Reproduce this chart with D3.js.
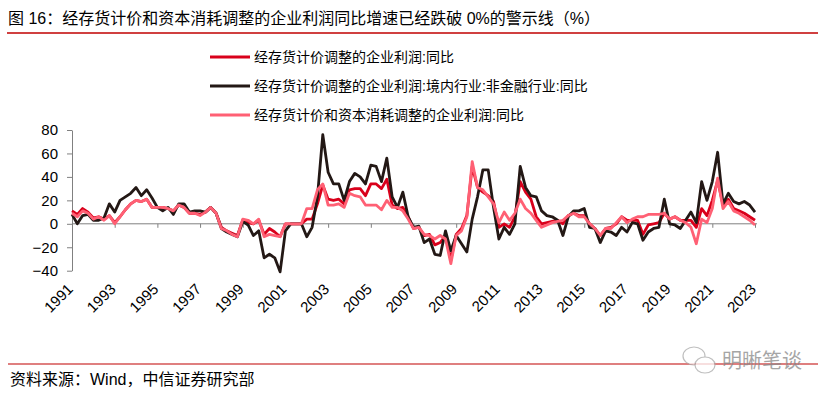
<!DOCTYPE html>
<html>
<head>
<meta charset="utf-8">
<script src="https://cdn.jsdelivr.net/npm/d3@7"></script>
<style>
  body { margin: 0; background: #fff; }
  svg { display: block; font-family: "Liberation Sans", Arial, "Noto Sans CJK SC", sans-serif; }
</style>
</head>
<body>
<div id="chart"></div>
<script>
var svgWidth = 826;
var svgHeight = 398;

// quarterly, 1991Q1 .. 2023Q1
var quarters = d3.range(129).map(function(i) {
  return (1991 + Math.floor(i / 4)) + "Q" + (i % 4 + 1);
});
var yearLabels = ["1991", "1993", "1995", "1997", "1999", "2001", "2003", "2005", "2007",
  "2009", "2011", "2013", "2015", "2017", "2019", "2021", "2023"];
var yTicks = [80, 60, 40, 20, 0, -20, -40];

var seriesNames = [
  "经存货计价调整的企业利润:同比",
  "经存货计价调整的企业利润:境内行业:非金融行业:同比",
  "经存货计价和资本消耗调整的企业利润:同比"
];

// 经存货计价调整的企业利润:同比
var profitIVA = [
  11, 8, 13, 10, 5, 6, 4, 7, 1, 6, 12, 17, 20, 19, 21, 14, 14, 14, 13, 11,
  16, 14, 9, 9, 8, 10, 14, 9, -3, -6, -8, -10, 3,
  1, 0, 3, -9, -4, -7, -11, 0, 0, 0, 0, 4, 4, 17, 33,
  21, 20, 21, 17, 29, 30, 30, 24, 34, 34, 30, 38, 16, 13, 14, 6, -4, -3, -10, -9,
  -18, -16, -10, -31, -9, -4, 7, 49, 31, 27, 24, 19, -3, 0, -3, 6, 36, 27, 21, 6,
  0, 1, 2, 3, 0, 7, 9, 7, 7, 0, -4, -10, -4,
  -3, 0, 6, 3, 3, 3, -9, -1, 0, 1, 9, 4, 6, 3, 3, 3, -3, 13, 7, 20,
  37, 16, 21, 13, 11, 9, 6, 3
];

// 经存货计价调整的企业利润:境内行业:非金融行业:同比
var profitNonFin = [
  8, 0, 7, 8, 3, 3, 5, 17, 10, 20, 23, 26, 31, 24, 29, 22, 14, 11, 14, 8,
  17, 17, 10, 11, 11, 10, 14, 9, -4, -7, -9, -11, 2,
  -1, -10, -6, -29, -26, -29, -41, -6, 0, 0, 0, -11, -3, 23, 76,
  44, 34, 34, 20, 36, 43, 40, 34, 50, 49, 36, 56, 23, 14, 27, 6, -3, -2, -16, -13,
  -26, -27, -6, -23, -10, -17, -24, 4, 23, 46, 46, 14, -13, -3, -9, 0, 49, 31, 24, 23,
  11, 7, 6, 3, -10, 6, 11, 11, 13, -3, -4, -16, -6,
  -7, -10, -3, -7, 1, 0, -14, -7, -4, -3, 21, 0, -1, -4, 3, 10, 1, 36, 20, 36,
  61, 17, 26, 19, 17, 19, 16, 10
];

// 经存货计价和资本消耗调整的企业利润:同比
var profitIVACC = [
  9, 6, 11, 9, 4, 6, 3, 7, 0, 6, 12, 17, 20, 19, 21, 14, 14, 14, 13, 11,
  16, 14, 9, 9, 7, 10, 14, 9, -4, -6, -9, -11, 4,
  3, 0, 4, -11, -9, -10, -11, 0, 0, 0, 0, 13, 13, 29, 34,
  16, 16, 17, 14, 26, 24, 23, 16, 16, 16, 12, 20, 14, 14, 11, 4, -4, -3, -9, -10,
  -13, -10, -13, -34, -10, -6, 6, 53, 31, 29, 23, 17, 1, 10, 3, 9, 21, 13, 9, 3,
  -3, -1, 1, 2, 3, 7, 9, 6, 6, 0, -4, -10, -4,
  -4, 1, 6, 1, 4, 6, 6, 8, 8, 8, 9, 4, 6, 3, 1, -3, -17, 4, 1, 13,
  39, 13, 19, 11, 9, 6, 3, -1
];

var svg = d3.select("#chart")
  .append("svg")
  .attr("width", svgWidth)
  .attr("height", svgHeight);

var font = "'Liberation Sans', Arial, 'Noto Sans CJK SC', sans-serif";

// Title
svg.append("text")
  .attr("x", 8)
  .attr("y", 24)
  .attr("font-size", "16px")
  .attr("fill", "#000")
  .text("图 16：经存货计价和资本消耗调整的企业利润同比增速已经跌破 0%的警示线（%）");

svg.append("line")
  .attr("x1", 7).attr("x2", 818)
  .attr("y1", 33).attr("y2", 33)
  .attr("stroke", "#c00000")
  .attr("stroke-width", 1.5);

// Scales
var xScale = d3.scalePoint()
  .domain(quarters)
  .range([72, 755]);

var yScale = d3.scaleLinear()
  .domain([-40, 80])
  .range([270.7, 130]);

var tickQuarters = yearLabels.map(function(y) { return y + "Q1"; });

// Y axis
var yAxis = svg.append("g")
  .attr("transform", "translate(72,0)")
  .call(d3.axisLeft(yScale).tickValues(yTicks).tickSize(5).tickSizeOuter(0).tickPadding(9));
yAxis.selectAll("text").attr("font-size", "15px").attr("fill", "#000").attr("font-family", font);
yAxis.selectAll("line").attr("stroke", "#808080");
yAxis.select(".domain").attr("stroke", "#808080");

// X axis along zero
var xAxis = svg.append("g")
  .attr("transform", `translate(0, ${yScale(0)})`)
  .call(d3.axisBottom(xScale).tickValues(tickQuarters).tickSize(4).tickSizeOuter(0).tickFormat(""));
xAxis.selectAll("line").attr("stroke", "#808080");
xAxis.select(".domain").attr("stroke", "#808080").attr("d", `M72,0H757`);

// X tick labels, rotated
svg.append("g")
  .selectAll("text")
  .data(tickQuarters)
  .enter()
  .append("text")
  .attr("transform", d => `translate(${xScale(d) + 2}, 290) rotate(-45)`)
  .attr("text-anchor", "end")
  .attr("font-size", "15px")
  .attr("fill", "#000")
  .text(d => d.slice(0, 4));

// Lines
var colors = ["#d9001b", "#231815", "#ff6074"];
var allSeries = [profitIVA, profitNonFin, profitIVACC];

var line = d3.line()
  .x((d, i) => xScale(quarters[i]))
  .y(d => yScale(d));

svg.append("g")
  .selectAll("path")
  .data(allSeries)
  .enter()
  .append("path")
  .attr("d", d => line(d))
  .attr("fill", "none")
  .attr("stroke", (d, i) => colors[i])
  .attr("stroke-width", 2.8)
  .attr("stroke-linejoin", "round");

// Legend
var legendY = [57, 86, 115];
var legend = svg.append("g");
seriesNames.forEach(function(name, i) {
  legend.append("line")
    .attr("x1", 210).attr("x2", 250)
    .attr("y1", legendY[i]).attr("y2", legendY[i])
    .attr("stroke", colors[i])
    .attr("stroke-width", 3);
  legend.append("text")
    .attr("x", 254)
    .attr("y", legendY[i] + 5)
    .attr("font-size", "14px")
    .attr("fill", "#000")
    .text(name);
});

// Footer
svg.append("line")
  .attr("x1", 8).attr("x2", 818)
  .attr("y1", 364).attr("y2", 364)
  .attr("stroke", "#c00000")
  .attr("stroke-width", 1.2);

svg.append("text")
  .attr("x", 10)
  .attr("y", 385)
  .attr("font-size", "16px")
  .attr("fill", "#000")
  .text("资料来源：Wind，中信证券研究部");

// watermark
var wm = svg.append("g").attr("opacity", 0.75);
wm.append("ellipse")
  .attr("cx", 694).attr("cy", 356).attr("rx", 11).attr("ry", 9)
  .attr("fill", "#fff").attr("stroke", "#aaa").attr("stroke-width", 1.2);
wm.append("ellipse")
  .attr("cx", 705).attr("cy", 365).attr("rx", 10).attr("ry", 8)
  .attr("fill", "#fff").attr("stroke", "#aaa").attr("stroke-width", 1.2);
wm.append("text")
  .attr("x", 722)
  .attr("y", 368)
  .attr("font-size", "20px")
  .attr("fill", "#888")
  .text("明晰笔谈");
</script>
</body>
</html>
